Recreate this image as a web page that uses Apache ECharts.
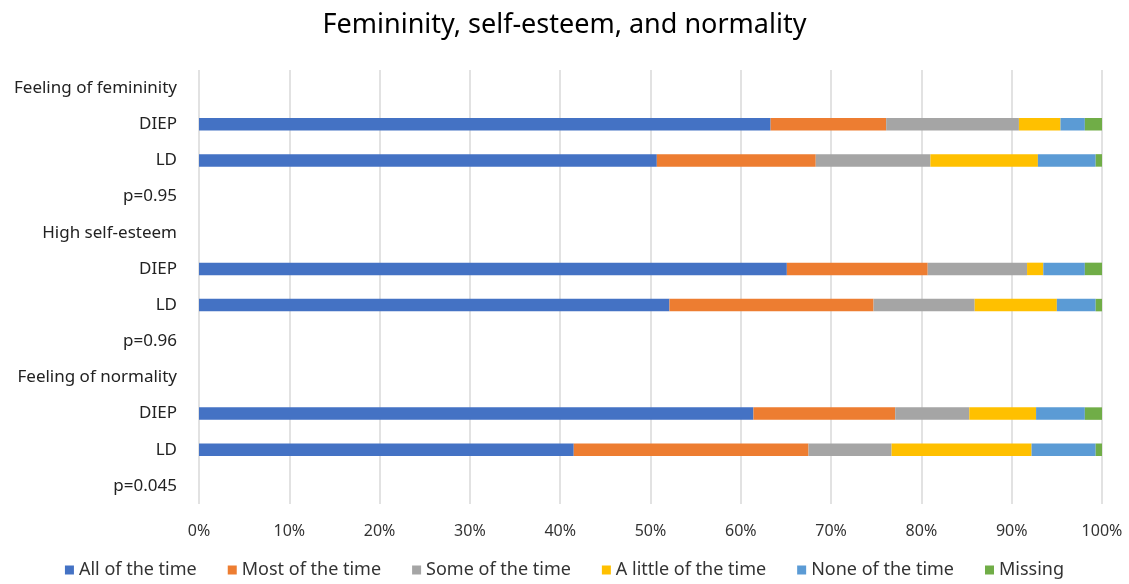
<!DOCTYPE html>
<html>
<head>
<meta charset="utf-8">
<script src="https://cdn.jsdelivr.net/npm/echarts@6/dist/echarts.min.js"></script>
<style>html,body{margin:0;padding:0;background:#fff}#c{width:1129px;height:584px}</style>
</head>
<body>
<div id="c"></div>
<script>
var categories = ['Feeling of femininity','DIEP','LD','p=0.95','High self-esteem','DIEP','LD','p=0.96','Feeling of normality','DIEP','LD','p=0.045'];
var seriesNames = ['All of the time','Most of the time','Some of the time','A little of the time','None of the time','Missing'];
var allOfTheTime   = [null, 63.3, 50.7, null, null, 65.1, 52.1, null, null, 61.4, 41.5, null];
var mostOfTheTime  = [null, 12.8, 17.6, null, null, 15.6, 22.6, null, null, 15.7, 26.0, null];
var someOfTheTime  = [null, 14.7, 12.7, null, null, 11.0, 11.2, null, null, 8.2, 9.2, null];
var aLittleOfTime  = [null, 4.6, 11.9, null, null, 1.8, 9.1, null, null, 7.4, 15.5, null];
var noneOfTheTime  = [null, 2.7, 6.4, null, null, 4.6, 4.3, null, null, 5.4, 7.1, null];
var missing        = [null, 1.9, 0.7, null, null, 1.9, 0.7, null, null, 1.9, 0.7, null];
var xTicks = ['0%','10%','20%','30%','40%','50%','60%','70%','80%','90%','100%'];
var colors = ['#4472C4','#ED7D31','#A5A5A5','#FFC000','#5B9BD5','#70AD47'];

var dataSets = [allOfTheTime, mostOfTheTime, someOfTheTime, aLittleOfTime, noneOfTheTime, missing];
var font = 'Noto Sans';
var chart = echarts.init(document.getElementById('c'));
chart.setOption({
  color: colors,
  animation: false,
  title: {
    text: 'Femininity, self-esteem, and normality',
    left: 'center', top: 7,
    textStyle: {fontFamily: font, fontSize: 27, fontWeight: 'normal', color: '#000'}
  },
  legend: {
    bottom: 0, left: 'center',
    icon: 'rect', itemWidth: 9, itemHeight: 9, itemGap: 31,
    textStyle: {fontFamily: font, fontSize: 18, color: '#333'},
    data: seriesNames
  },
  grid: {left: 199, right: 27, top: 70, bottom: 80, containLabel: false},
  xAxis: {
    type: 'value', min: 0, max: 100, interval: 10,
    axisLine: {show: false}, axisTick: {show: false},
    splitLine: {lineStyle: {color: '#D9D9D9', width: 1.5}},
    axisLabel: {
      fontFamily: font, fontSize: 16, color: '#333', margin: 19,
      formatter: function (v) { return xTicks[Math.round(v / 10)]; }
    }
  },
  yAxis: {
    type: 'category', inverse: true, data: categories,
    axisLine: {show: false}, axisTick: {show: false},
    axisLabel: {fontFamily: font, fontSize: 17, color: '#222', margin: 22}
  },
  series: dataSets.map(function (d, i) {
    return {
      name: seriesNames[i], type: 'bar', stack: 'total', barWidth: 12.5,
      data: d
    };
  })
});
</script>
</body>
</html>
